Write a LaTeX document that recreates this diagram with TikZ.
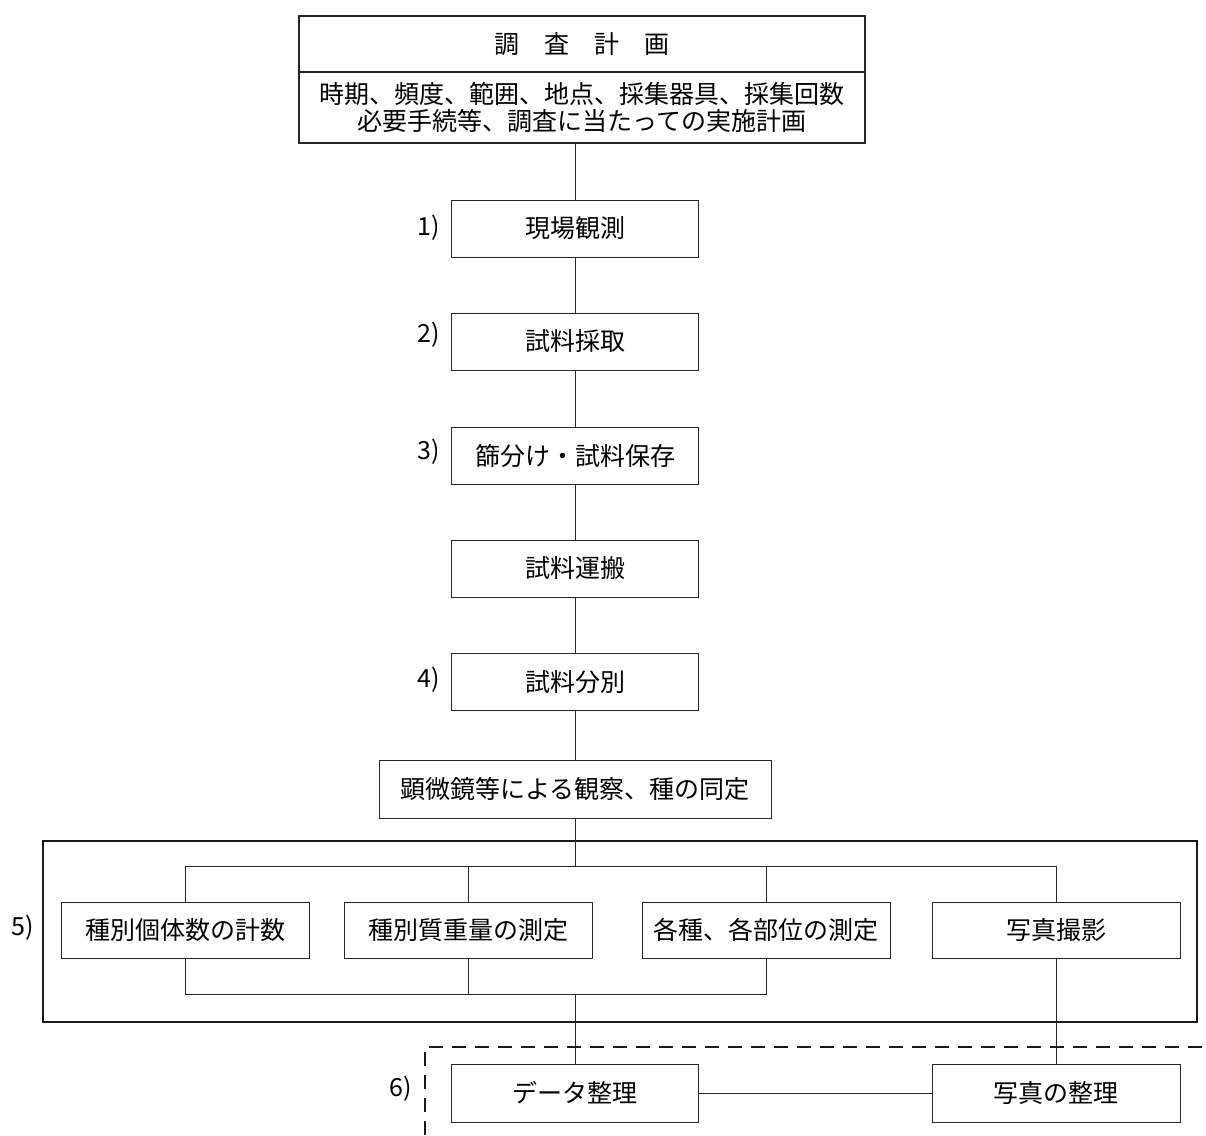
\documentclass[tikz,border=0pt]{standalone}
\usepackage{fontspec}
\setmainfont{Noto Sans CJK JP}
\begin{document}
\begin{tikzpicture}[x=1pt,y=-1pt,
  box/.style={draw=black!85,line width=1pt,rectangle,inner sep=0pt,
    minimum width=247pt,minimum height=57pt,
    font=\fontsize{25}{27}\selectfont},
  cbox/.style={box,minimum width=248pt,minimum height=56pt},
  lbl/.style={anchor=east,inner sep=0pt,font=\fontsize{25}{27}\selectfont},
  conn/.style={draw=black!85,line width=1pt},
  frame/.style={draw=black!90,line width=1.8pt},
  dashline/.style={draw=black!90,line width=1.3pt,dash pattern=on 14pt off 9pt}]
\useasboundingbox (0,0) rectangle (1206,1135);
\fill[white] (0,0) rectangle (1206,1135);

% top plan box
\node[box,minimum width=566pt,minimum height=56pt,line width=1.2pt] (plan) at (582,44) {調　査　計　画};
\node[box,minimum width=566pt,minimum height=71pt,line width=1.2pt,align=center] (planbody) at (582,107.5)
  {時期、頻度、範囲、地点、採集器具、採集回数\\必要手続等、調査に当たっての実施計画};

% main chain
\node[box] (obs) at (575,228.5) {現場観測};
\node[box] (samp) at (575,341.5) {試料採取};
\node[box] (sieve) at (575,455.5) {篩分け・試料保存};
\node[box] (trans) at (575,568.5) {試料運搬};
\node[box] (sort) at (575,682) {試料分別};
\node[box,minimum width=392pt,minimum height=58pt] (micro) at (575,789) {顕微鏡等による観察、種の同定};

\node[lbl] (l1) at (440,228) {1)};
\node[lbl] (l2) at (440,335) {2)};
\node[lbl] (l3) at (440,452) {3)};
\node[lbl] (l4) at (440,680) {4)};

\draw[conn] (obs.north) -- (obs.north |- planbody.south);
\draw[conn] (obs) -- (samp);
\draw[conn] (samp) -- (sieve);
\draw[conn] (sieve) -- (trans);
\draw[conn] (trans) -- (sort);
\draw[conn] (sort) -- (micro);

% big frame
\draw[frame] (43,841) rectangle (1197,1022);
\node[lbl] (l5) at (34,928) {5)};

\node[cbox] (c1) at (185,930) {種別個体数の計数};
\node[cbox] (c2) at (468,930) {種別質重量の測定};
\node[cbox] (c3) at (766,930) {各種、各部位の測定};
\node[cbox] (c4) at (1056,930) {写真撮影};

\coordinate (tb) at (575,866);
\coordinate (bb) at (575,994);
\draw[conn] (micro.south) -- (tb);
\draw[conn] (c1.north) |- (tb) -| (c4.north);
\draw[conn] (c2.north) -- (c2.north |- tb);
\draw[conn] (c3.north) -- (c3.north |- tb);
\draw[conn] (c1.south) |- (bb) -| (c3.south);
\draw[conn] (c2.south) -- (c2.south |- bb);

% bottom
\node[box,minimum height=58pt] (d1) at (575,1093) {データ整理};
\node[box,minimum width=248pt,minimum height=58pt] (d2) at (1056,1093) {写真の整理};
\draw[conn] (bb) -- (d1.north);
\draw[conn] (c4.south) -- (d2.north);
\draw[conn] (d1.east) -- (d2.west);

\coordinate (dA) at (425,1135);
\coordinate (dB) at (425,1047);
\coordinate (dC) at (1206,1047);
\draw[dashline] (dA) -- (dB) -- (dC);
\node[lbl] (l6) at (412,1089) {6)};
\end{tikzpicture}
\end{document}
